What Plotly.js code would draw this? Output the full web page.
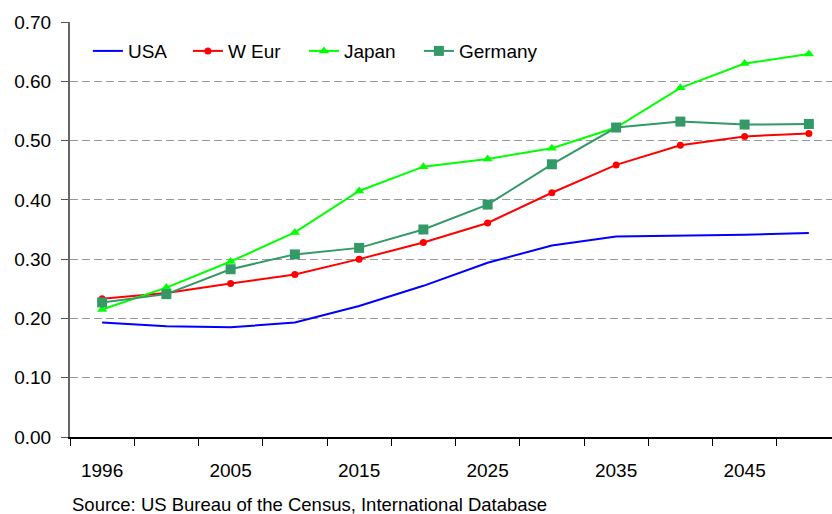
<!DOCTYPE html>
<html>
<head>
<meta charset="utf-8">
<script src="https://cdn.plot.ly/plotly-3.0.1.min.js"></script>
<style>html,body{margin:0;padding:0;background:#fff;}#chart{width:832px;height:514px;}</style>
</head>
<body>
<div id="chart"></div>
<script>
var years = ["1996","2000","2005","2010","2015","2020","2025","2030","2035","2040","2045","2050"];
var tickLabels = ["1996","","2005","","2015","","2025","","2035","","2045",""];
var usa = [0.193,0.187,0.185,0.193,0.221,0.255,0.294,0.323,0.338,0.339,0.341,0.344];
var wEur = [0.233,0.243,0.259,0.274,0.300,0.328,0.361,0.412,0.459,0.492,0.507,0.512];
var japan = [0.215,0.252,0.296,0.345,0.415,0.456,0.469,0.487,0.522,0.589,0.630,0.646];
var germany = [0.227,0.241,0.283,0.308,0.319,0.350,0.392,0.460,0.522,0.532,0.527,0.528];
var sourceText = "Source: US Bureau of the Census, International Database";

var FONT = "Liberation Sans, Arial, sans-serif";
var traces = [
  {x: years, y: usa, name: "USA", type: "scatter", mode: "lines",
   line: {color: "#0000FF", width: 2}, legendwidth: 55},
  {x: years, y: wEur, name: "W Eur", type: "scatter", mode: "lines+markers",
   line: {color: "#FF0000", width: 2}, marker: {symbol: "circle", size: 7, color: "#FF0000"}, legendwidth: 71},
  {x: years, y: japan, name: "Japan", type: "scatter", mode: "lines+markers",
   line: {color: "#00FF00", width: 2}, marker: {symbol: "triangle-up", size: 9, color: "#00FF00"}, legendwidth: 70},
  {x: years, y: germany, name: "Germany", type: "scatter", mode: "lines+markers",
   line: {color: "#339966", width: 2}, marker: {symbol: "square", size: 10, color: "#339966"}}
];

var layout = {
  width: 832, height: 514,
  margin: {l: 70, r: 0, t: 22, b: 77, pad: 0},
  paper_bgcolor: "#ffffff", plot_bgcolor: "#ffffff",
  font: {family: FONT, size: 19, color: "#000"},
  showlegend: true,
  legend: {orientation: "h", x: 0.0235, xanchor: "left", y: 0.93, yanchor: "middle",
           bgcolor: "rgba(0,0,0,0)", font: {family: FONT, size: 19, color: "#000"}, traceorder: "normal"},
  xaxis: {type: "category", range: [-0.5, 11.36], tickmode: "array", tickvals: years, ticktext: tickLabels,
          tickson: "boundaries", ticks: "outside", ticklen: 7, tickcolor: "#000", tickwidth: 1,
          showline: true, linecolor: "#000", linewidth: 1.5, showgrid: false, zeroline: false,
          ticklabelstandoff: 16, tickfont: {family: FONT, size: 19, color: "#000"}, fixedrange: true},
  yaxis: {range: [0, 0.7], dtick: 0.1, tick0: 0, tickformat: ".2f", ticks: "outside", ticklen: 7,
          tickcolor: "#555", showline: true, linecolor: "#666", linewidth: 2, showgrid: true,
          gridcolor: "#999", gridwidth: 1, griddash: "8px,4px", zeroline: false,
          ticklabelstandoff: 6, tickfont: {family: FONT, size: 19, color: "#000"}, fixedrange: true},
  annotations: [{text: sourceText, xref: "paper", yref: "paper", x: 0, y: -0.163,
                 xanchor: "left", yanchor: "middle", showarrow: false,
                 font: {family: FONT, size: 18.5, color: "#000"}}]
};
Plotly.newPlot("chart", traces, layout, {displayModeBar: false, staticPlot: true});
</script>
</body>
</html>
